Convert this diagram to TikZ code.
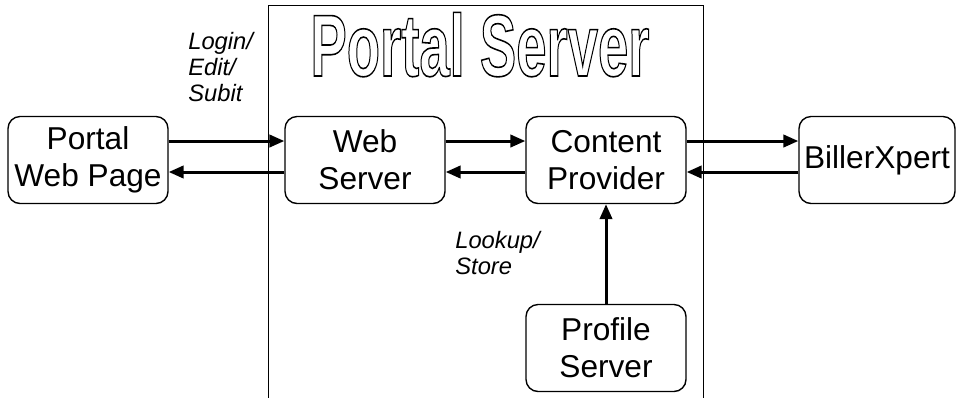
\documentclass[tikz,border=0pt]{standalone}
\usepackage{fontspec}
\usepackage{graphicx}
\setmainfont{Liberation Sans}
\usetikzlibrary{arrows.meta}
% hollow letters for the heading
\newcommand{\hollow}[1]{\special{pdf:literal direct 1 Tr 0.9 w}#1\special{pdf:literal direct 0 Tr}}

\begin{document}
\begin{tikzpicture}[x=0.02cm,y=-0.02cm,
   box/.style={draw,rounded corners=0.24cm,line width=0.8pt,
      minimum width=3.2cm,minimum height=1.74cm,inner sep=0pt,
      align=center,font=\fontsize{18}{21}\selectfont},
   flow/.style={line width=1.7pt,-{Triangle[length=8.5pt,width=7pt]}},
   note/.style={align=left,inner sep=0pt,font=\fontsize{13.5}{14.7}\selectfont\itshape}]
\useasboundingbox (0,0) rectangle (956,397);

% the server frame, open at the bottom
\draw[line width=0.45pt] (268,400) -- (268,5) -- (703,5) -- (703,400);
\node[anchor=base,inner sep=0pt] (title) at (480,76)
   {\scalebox{0.62}[1]{\fontsize{50}{50}\selectfont\bfseries\hollow{Portal Server}}};

\node[box] (pwp) at (88,160) {Portal\\Web Page};
\node[box] (web) at (365,160) {Web\\Server};
\node[box] (cont) at (606,160) {Content\\Provider};
\node[box,minimum width=3.12cm] (biller) at (877,160) {BillerXpert};
\node[box] (prof) at (606,348) {Profile\\Server};

\draw[flow] ([yshift=0.38cm]pwp.east) -- ([yshift=0.38cm]web.west);
\draw[flow] ([yshift=-0.24cm]web.west) -- ([yshift=-0.24cm]pwp.east);
\draw[flow] ([yshift=0.38cm]web.east) -- ([yshift=0.38cm]cont.west);
\draw[flow] ([yshift=-0.24cm]cont.west) -- ([yshift=-0.24cm]web.east);
\draw[flow] ([yshift=0.38cm]cont.east) -- ([yshift=0.38cm]biller.west);
\draw[flow] ([yshift=-0.24cm]biller.west) -- ([yshift=-0.24cm]cont.east);
\draw[flow] (prof.north) -- (cont.south);

\node[note,anchor=north west] (login) at (188,32) {Login/\\Edit/\\Subit};
\node[note,anchor=north west] (lookup) at (455,231) {Lookup/\\Store};
\end{tikzpicture}
\end{document}
